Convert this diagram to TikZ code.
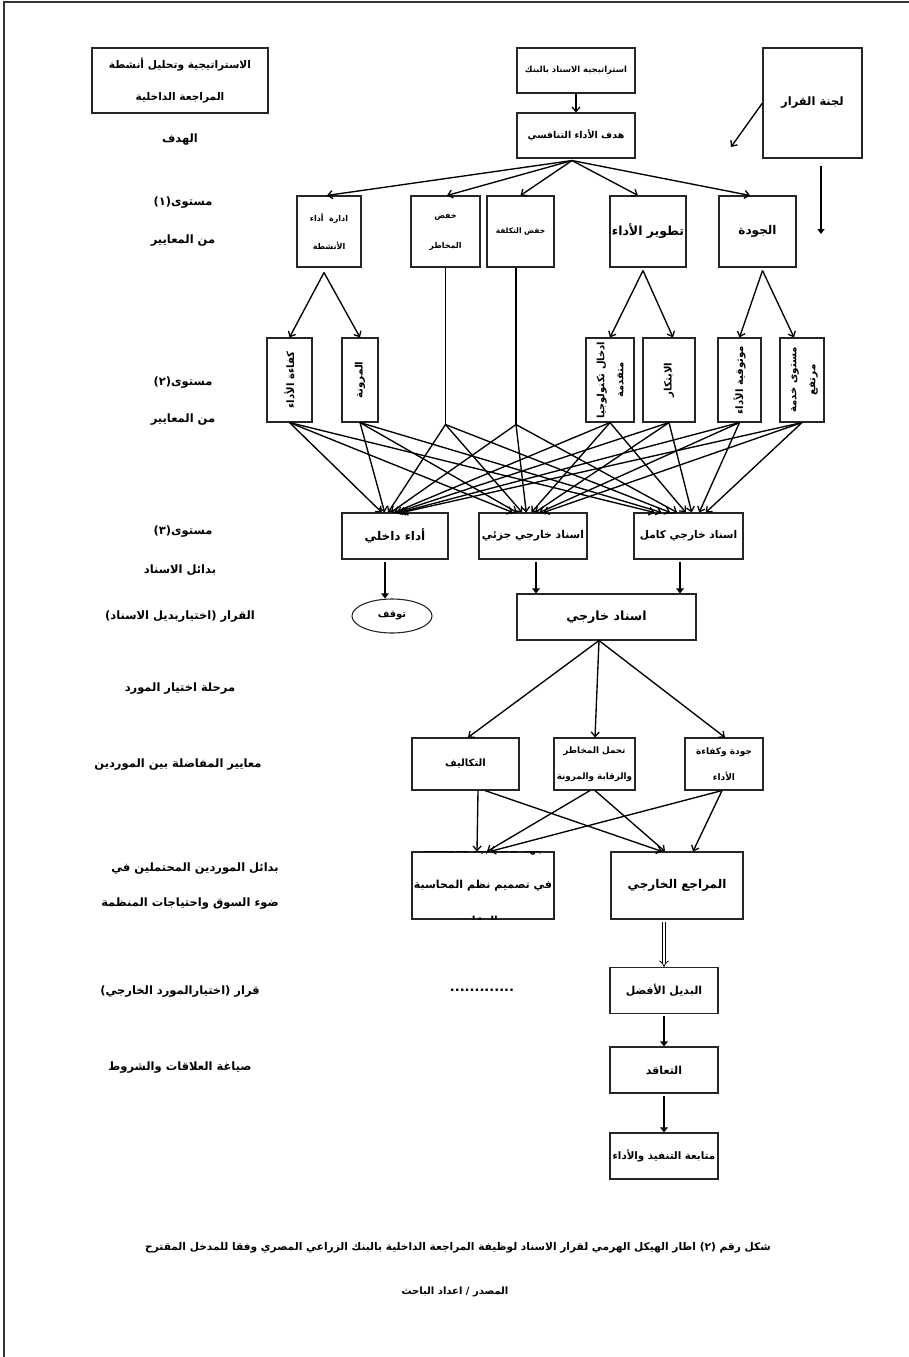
\documentclass[tikz,border=0pt]{standalone}
\usepackage{fontspec}
\usepackage{graphicx}
\usetikzlibrary{arrows.meta,shapes.geometric}
\newfontfamily\arfont[Script=Arabic]{DejaVu Sans}
\TeXXeTstate=1
\newcommand{\art}[1]{\beginR#1\endR}
\newcommand{\fs}[2]{\fontsize{#1}{#2}\selectfont}
\begin{document}
\begin{tikzpicture}[x=1pt,y=-1pt,
  box/.style={draw=black!85,line width=1.1pt,inner sep=0pt,align=center},
  fsz/.style 2 args={font={\arfont\bfseries\fs{#1}{#2}}},
  lbl/.style={inner sep=0pt,align=center,font={\arfont\bfseries\fs{11.5}{14}}},
  arr/.style={-{Straight Barb[length=4.5pt,width=8pt,line width=1.3pt]},line width=1.35pt},
  tarr/.style={-{Triangle[length=5pt,width=7.5pt]},line width=2.6pt,shorten <=2pt},
  darr/.style={double,double distance=2.5pt,line width=0.8pt,-{Implies},shorten <=2pt}
]
\useasboundingbox (0,0) rectangle (909,1357);
\draw[line width=1.3pt,black!80] (4,1357) -- (4,2) -- (909,2);

% ---------- left labels ----------
\node[box,fsz={10.6}{32},minimum width=176,minimum height=65] (strat0) at (180,80.5) {\art{الاستراتيجية وتحليل أنشطة}\\\art{المراجعة الداخلية}};
\node[lbl] (lhadaf) at (180,140) {\art{الهدف}};
\node[lbl] (lm1a) at (183,203) {\art{مستوى(١)}};
\node[lbl] (lm1b) at (183,241) {\art{من المعايير}};
\node[lbl] (lm2a) at (183,383) {\art{مستوى(٢)}};
\node[lbl] (lm2b) at (183,420) {\art{من المعايير}};
\node[lbl] (lm3a) at (183,532) {\art{مستوى(٣)}};
\node[lbl] (lm3b) at (180,570) {\art{بدائل الاسناد}};
\node[lbl] (lqarar) at (180,617) {\art{القرار  (اختياربديل الاسناد)}};
\node[lbl] (lmarhala) at (180,689) {\art{مرحلة اختيار المورد}};
\node[lbl] (lmaayir) at (178,765) {\art{معايير المفاضلة بين الموردين}};
\node[lbl] (lbadail) at (195,869) {\art{بدائل الموردين المحتملين في}};
\node[lbl] (ldaw) at (190,904) {\art{ضوء السوق واحتياجات المنظمة}};
\node[lbl] (lqarar2) at (180,992) {\art{قرار  (اختيارالمورد الخارجي)}};
\node[lbl] (lsiyagha) at (180,1068) {\art{صياغة العلاقات والشروط}};

% ---------- top ----------
\node[box,fsz={8.4}{12},minimum width=118,minimum height=45] (strat) at (576,70.5) {\art{استراتيجية الاسناد بالبنك}};
\node[box,fsz={9.5}{12},minimum width=118,minimum height=45] (hadaf) at (576,135.5) {\art{هدف الأداء التنافسي}};
\node[box,fsz={11.5}{14},minimum width=99,minimum height=110] (lajna) at (812.5,103) {\art{لجنة القرار}};
\coordinate (lj) at (731,147);
\coordinate (ljd) at (821,234);

% ---------- level 1 ----------
\node[box,fsz={8}{28},minimum width=64,minimum height=71] (idara) at (329,231.5) {\art{ادارة~~أداء}\\\art{الأنشطة}};
\node[box,fsz={8}{30},minimum width=69,minimum height=71] (mkhatir) at (445.5,231.5) {\art{خفض}\\\art{المخاطر}};
\node[box,fsz={7.5}{10},minimum width=67,minimum height=71] (taklifa) at (520.5,231.5) {\art{خفض التكلفة}};
\node[box,fsz={12.5}{15},minimum width=76,minimum height=71] (tatwir) at (648,231.5) {\art{تطوير الأداء}};
\node[box,fsz={12}{15},minimum width=77,minimum height=71] (jawda) at (757.5,231.5) {\art{الجودة}};

% ---------- level 2 ----------
\node[box,fsz={10.2}{19},minimum width=45,minimum height=84] (kafaa) at (289.5,380) {\rotatebox{90}{\art{كفاءة الأداء}}};
\node[box,fsz={10.2}{19},minimum width=36,minimum height=84] (muruna) at (360,380) {\rotatebox{90}{\art{المرونة}}};
\node[box,fsz={10}{19},minimum width=48,minimum height=84] (idkhal) at (610,380) {\rotatebox{90}{\begin{tabular}{@{}c@{}}\art{ادخال تكنولوجيا}\\\art{متقدمة}\end{tabular}}};
\node[box,fsz={10.2}{19},minimum width=52,minimum height=84] (ibtikar) at (669,380) {\rotatebox{90}{\art{الابتكار}}};
\node[box,fsz={10.2}{19},minimum width=43,minimum height=84] (mawthuq) at (739.5,380) {\rotatebox{90}{\art{موثوقية الأداء}}};
\node[box,fsz={10.2}{19},minimum width=44,minimum height=84] (mustawa) at (802,380) {\rotatebox{90}{\begin{tabular}{@{}c@{}}\art{مستوى خدمة}\\\art{مرتفع}\end{tabular}}};
\coordinate (s1) at ([yshift=-157]mkhatir.south);
\coordinate (s2) at ([xshift=-4.5,yshift=-157]taklifa.south);

% ---------- level 3 ----------
\node[box,fsz={12}{14},minimum width=106,minimum height=46] (dakhili) at (395,536) {\art{أداء داخلي}};
\node[box,fsz={10.8}{14},minimum width=108,minimum height=46] (juzi) at (533,536) {\art{اسناد خارجي جزئي}};
\node[box,fsz={10.6}{14},minimum width=109,minimum height=46] (kamil) at (688.5,536) {\art{اسناد خارجي كامل}};
\node[box,fsz={12.6}{16},minimum width=179,minimum height=46] (isnad) at (606.5,617) {\art{اسناد خارجي}};
\node[draw=black!85,line width=1.1pt,ellipse,inner sep=0pt,fsz={10}{12},minimum width=80,minimum height=34] (tawaquf) at (392,616) {\art{توقف}};

% ---------- supplier criteria ----------
\node[box,fsz={10}{14},minimum width=107,minimum height=52] (takalif) at (465.5,764) {\art{التكاليف}};
\node[box,fsz={8.8}{26},minimum width=81,minimum height=52] (tahammul) at (594.5,764) {\art{تحمل المخاطر}\\\art{والرقابة والمرونة}};
\node[box,fsz={9}{26},minimum width=78,minimum height=52] (jawdakafa) at (724,764) {\art{جودة وكفاءة}\\\art{الأداء}};

% ---------- supplier alternatives ----------
\node[box,minimum width=142,minimum height=67] (jiha) at (483,885.5) {};
\begin{scope}
\clip (jiha.south west) rectangle (jiha.north east);
\node[inner sep=0pt,align=center,fsz={11}{36}] (jihatxt) at (jiha.center) {\art{جهة محاسبية متخصصة}\\\art{في تصميم نظم المحاسبة}\\\art{والرقابة}};
\end{scope}
\node[box,fsz={12}{14},minimum width=132,minimum height=67] (murajie) at (677,885.5) {\art{المراجع الخارجي}};
\node[box,fsz={11}{14},minimum width=108,minimum height=46] (badil) at (664,990.5) {\art{البديل الأفضل}};
\node[inner sep=0pt,font={\arfont\bfseries\fs{13}{15}}] (dots) at (482,990) {.............};
\node[box,fsz={11}{14},minimum width=108,minimum height=46] (taaqud) at (664,1070) {\art{التعاقد}};
\node[box,fsz={10.3}{12},minimum width=108,minimum height=46] (mutaba) at (664,1156) {\art{متابعة التنفيذ والأداء}};

% ---------- caption ----------
\node[inner sep=0pt,fsz={10.6}{13}] (caption) at (458,1248) {\art{شكل رقم (٢)  اطار الهيكل الهرمي لقرار الاسناد لوظيفة المراجعة الداخلية بالبنك الزراعي المصري وفقا للمدخل المقترح}};
\node[inner sep=0pt,fsz={10}{12}] (source) at (455,1292) {\art{المصدر / اعداد الباحث}};

% ---------- connectors ----------
\draw[arr] (strat) -- (hadaf);
\coordinate (h0) at ([xshift=-4,yshift=-2]hadaf.south);
\foreach \nn/\dx in {idara/-2,mkhatir/1.5,taklifa/0,tatwir/-10,jawda/-7.5}
  \draw[arr] (h0) -- ([xshift=\dx]\nn.north);
\draw[arr] (lajna.west) -- (lj);
\draw[tarr,-{Triangle[length=5pt,width=7pt]},line width=2.2pt] ([xshift=8.5,yshift=-5]lajna.south) -- (ljd);

\coordinate (a1) at ([xshift=-5,yshift=-5]idara.south);
\draw[arr] (a1) -- (kafaa.north);
\draw[arr] (a1) -- (muruna.north);
\coordinate (a2) at ([xshift=-5,yshift=-3]tatwir.south);
\draw[arr] (a2) -- (idkhal.north);
\draw[arr] (a2) -- ([xshift=4]ibtikar.north);
\coordinate (a3) at ([xshift=5,yshift=-3]jawda.south);
\draw[arr] (a3) -- (mawthuq.north);
\draw[arr] (a3) -- ([xshift=-8]mustawa.north);

\draw[line width=1.35pt] (mkhatir.south) -- (s1);
\draw[line width=1.35pt] ([xshift=-4.5]taklifa.south) -- (s2);

\foreach \src/\sx in {kafaa.south/290,muruna.south/361,s1/447,s2/516,idkhal.south/603,ibtikar.south/662,mawthuq.south/737,mustawa.south/803}{
  \draw[arr] (\src) -- ([xshift={0.04*(\sx-545)-3}]dakhili.north);
  \draw[arr] (\src) -- ([xshift={0.06*(\sx-545)-5}]juzi.north);
  \draw[arr] (\src) -- ([xshift={0.1*(\sx-545)-8.5}]kamil.north);
}

\draw[tarr] ([xshift=-10]dakhili.south) -- ([xshift=-7]tawaquf.north);
\draw[tarr] ([xshift=3]juzi.south) -- ([xshift=-70.5]isnad.north);
\draw[tarr] ([xshift=-8.5]kamil.south) -- ([xshift=73.5]isnad.north);

\coordinate (i0) at ([xshift=-7.5]isnad.south);
\draw[arr] (i0) -- ([xshift=2.5]takalif.north);
\draw[arr] (i0) -- ([xshift=0.5]tahammul.north);
\draw[arr] (i0) -- ([xshift=1]jawdakafa.north);

\draw[arr] ([xshift=12.5]takalif.south) -- ([xshift=-6]jiha.north);
\draw[arr] ([xshift=19.5]takalif.south) -- ([xshift=-15]murajie.north);
\draw[arr] ([xshift=-4.5]tahammul.south) -- ([xshift=4]jiha.north);
\draw[arr] ([xshift=0.5]tahammul.south) -- ([xshift=-12]murajie.north);
\draw[arr] ([xshift=-2]jawdakafa.south) -- ([xshift=7]jiha.north);
\draw[arr] ([xshift=-2]jawdakafa.south) -- ([xshift=16]murajie.north);

\draw[darr] ([xshift=-13]murajie.south) -- (badil.north);
\draw[tarr,line width=2.2pt] (badil.south) -- (taaqud.north);
\draw[tarr,line width=2.2pt] (taaqud.south) -- (mutaba.north);
\end{tikzpicture}
\end{document}
